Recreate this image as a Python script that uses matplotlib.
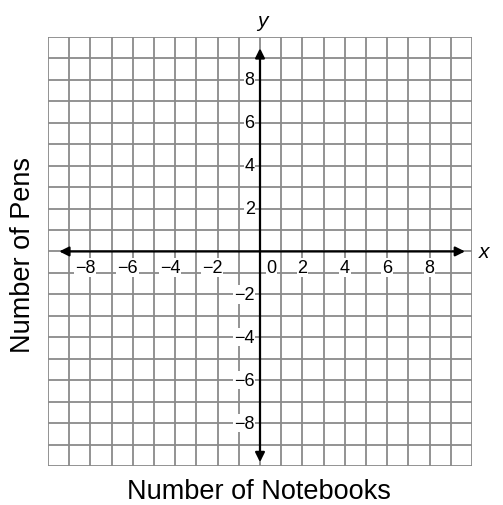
import matplotlib
matplotlib.use('Agg')
import matplotlib.pyplot as plt

plt.rcParams['font.family'] = ['Liberation Sans', 'DejaVu Sans']

# graph paper: 20 x 20 unit squares, labels on every second unit
grid_lo, grid_hi = -10, 10
x_ticks = [-8, -6, -4, -2, 2, 4, 6, 8]
y_ticks = [8, 6, 4, 2, -2, -4, -6, -8]
x_title = 'Number of Notebooks'
y_title = 'Number of Pens'

fig = plt.figure(figsize=(5.03, 5.06), dpi=100)
ax = fig.add_axes([0.0954, 0.0771, 0.843, 0.848])
ax.set_xlim(grid_lo, grid_hi)
ax.set_ylim(grid_lo, grid_hi)
ax.set_xticks([])
ax.set_yticks([])
for s in ax.spines.values():
    s.set_visible(False)

for v in range(grid_lo, grid_hi + 1):
    ax.axvline(v, color='#8a8a8a', lw=1.3, zorder=1)
    ax.axhline(v, color='#8a8a8a', lw=1.3, zorder=1)

# axes with arrowheads at both ends
arrow = dict(arrowstyle='<|-|>', color='black', lw=1.6, mutation_scale=14)
ax.annotate('', xy=(9.8, 0), xytext=(-9.6, 0), arrowprops=arrow, zorder=3)
ax.annotate('', xy=(0, 9.6), xytext=(0, -9.95), arrowprops=arrow, zorder=3)

box = dict(facecolor='white', edgecolor='none', pad=0.5)


def lbl(t):
    return str(t).replace('-', '\u2212')


# digit sits on the grid line, minus sign hangs to the left
for t in x_ticks:
    xpos = t - 0.25 if t < 0 else t
    ax.text(xpos, -0.35, lbl(t), ha='center', va='top', fontsize=13,
            bbox=box, zorder=4)
ax.text(0.55, -0.35, '0', ha='center', va='top', fontsize=13, bbox=box, zorder=4)
for t in y_ticks:
    ax.text(-0.25, t, lbl(t), ha='right', va='center', fontsize=13,
            bbox=box, zorder=4)

ax.text(10.3, 0, 'x', ha='left', va='center', fontsize=15, style='italic',
        clip_on=False)
ax.text(0.1, 10.3, 'y', ha='center', va='bottom', fontsize=15, style='italic',
        clip_on=False)

fig.text(0.515, 0.014, x_title, ha='center', va='baseline', fontsize=19.5)
fig.text(0.046, 0.496, y_title, ha='center', va='center', rotation=90, fontsize=19.5)

fig.savefig('out.png', dpi=100)
